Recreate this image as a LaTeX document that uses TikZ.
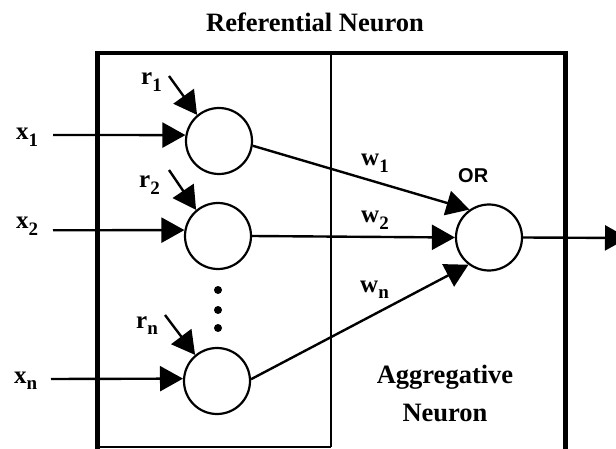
\documentclass[tikz,border=0pt]{standalone}
\usepackage{fontspec}
\setmainfont{Liberation Serif}
\newfontfamily\orfont{Liberation Sans}
\usetikzlibrary{arrows.meta}
\newcommand{\sbs}[1]{\raisebox{-6.5pt}{\fontsize{19}{19}\selectfont #1}}
\begin{document}
\begin{tikzpicture}[x=1pt,y=-1pt,
  neuron/.style={circle,draw,line width=2.2pt,minimum size=66pt,inner sep=0pt},
  arr/.style={line width=2.4pt,-{Triangle[length=23pt,width=25pt]}},
  lbl/.style={font=\fontsize{25}{30}\selectfont\bfseries,inner sep=0pt,anchor=base west},
  big/.style={font=\fontsize{26.5}{31}\selectfont\bfseries,inner sep=0pt,anchor=base},
  orlbl/.style={font=\fontsize{20}{24}\selectfont\orfont\bfseries,inner sep=0pt,anchor=base west},
  thick box/.style={line width=4.5pt},
  divider/.style={line width=2pt},
  dotmark/.style={fill=black}]
\useasboundingbox (0,0) rectangle (616,449);
\clip (0,0) rectangle (616,449);
% title
\node[big] (title) at (315,32) {Referential Neuron};
% frame
\coordinate (bl) at (97.5,449);
\coordinate (tl) at (97.5,53);
\coordinate (tr) at (565.5,53);
\coordinate (br) at (565.5,449);
\coordinate (dt) at (330.5,53);
\coordinate (db) at (330.5,447);
\coordinate (bb) at (97.5,447);
\draw[thick box] (bl) -- (tl) -- (tr) -- (br);
\draw[divider] (dt) -- (db);
\draw[line width=1.2pt] (bb) -- (db);
% neurons
\node[neuron] (c1) at (219,141) {};
\node[neuron] (c2) at (218,236) {};
\node[neuron] (cn) at (217,381) {};
\node[neuron] (or) at (489,237.5) {};
% dots
\fill[dotmark] (218,290) circle (4pt);
\fill[dotmark] (218,310) circle (4pt);
\fill[dotmark] (218,328) circle (4pt);
% input labels and arrows
\node[lbl] (x1) at (16,140) {x\sbs{1}};
\node[lbl] (x2) at (16,229) {x\sbs{2}};
\node[lbl] (xn) at (14,383) {x\sbs{n}};
\coordinate (s1) at (53,135);
\coordinate (s2) at (53,230.3);
\coordinate (sn) at (51,379);
\draw[arr] (s1) -- (c1.170);
\draw[arr] (s2) -- (c2.170);
\draw[arr] (sn) -- (cn.176.5);
% reference labels and arrows
\node[lbl] (r1) at (141,85) {r\sbs{1}};
\node[lbl] (r2) at (139,188) {r\sbs{2}};
\node[lbl] (rn) at (136,328) {r\sbs{n}};
\coordinate (q1) at (169,76);
\coordinate (q2) at (169,170);
\coordinate (qn) at (165,315);
\draw[arr] (q1) -- (c1.130);
\draw[arr] (q2) -- (c2.130);
\draw[arr] (qn) -- (cn.130);
% weights
\draw[arr] (c1.-8) -- (or.125);
\draw[arr] (c2.0) -- (or.180);
\draw[arr] (cn.3) -- (or.233);
\node[lbl] (w1) at (361,166) {w\sbs{1}};
\node[lbl] (w2) at (361,223) {w\sbs{2}};
\node[lbl] (wn) at (360,292) {w\sbs{n}};
\node[orlbl] (orl) at (458,183) {OR};
% output
\coordinate (out) at (628,238);
\draw[arr] (or.0) -- (out);
% aggregative label
\node[big] (ag1) at (445,383) {Aggregative};
\node[big] (ag2) at (445,421) {Neuron};
\end{tikzpicture}
\end{document}
